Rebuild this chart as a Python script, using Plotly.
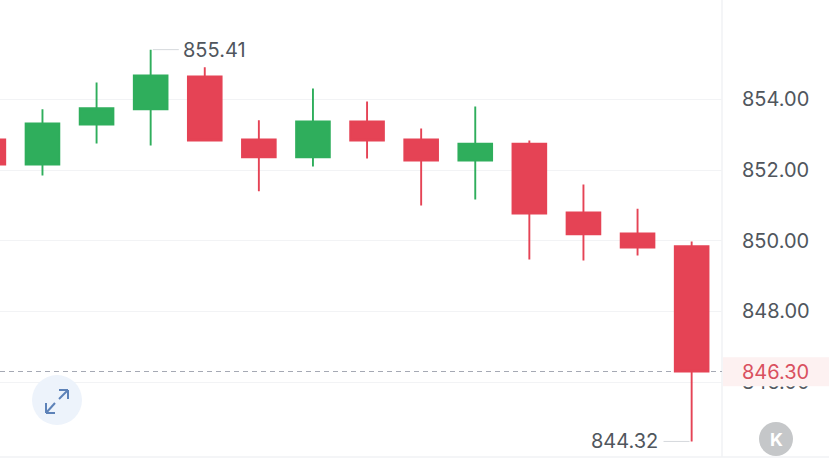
import plotly.graph_objects as go

W, H = 829, 462
PLOT_R, PLOT_B = 722, 457

index = list(range(-1, 13))
opens = [852.87, 852.16, 853.29, 853.72, 854.65, 852.87, 852.36, 853.38, 852.87, 852.27, 852.75, 850.80, 850.21, 849.85]
highs = [853.10, 853.72, 854.48, 855.41, 854.91, 853.41, 854.31, 853.94, 853.18, 853.80, 852.84, 851.59, 850.91, 849.98]
lows = [852.00, 851.85, 852.75, 852.70, 852.81, 851.40, 852.10, 852.33, 851.00, 851.17, 849.47, 849.44, 849.58, 844.32]
closes = [852.16, 853.32, 853.75, 854.68, 852.84, 852.36, 853.38, 852.84, 852.27, 852.75, 850.77, 850.18, 849.81, 846.30]
y_ticks = [846, 848, 850, 852, 854]
last_price = 846.30
max_label = ("855.41", 2, 855.41)
min_label = ("844.32", 12, 844.32)

GREEN, RED = "#2fae5c", "#e54355"
TXT = "#50565d"
FONT = "Inter"
FS = 20


def px(x):
    return x / PLOT_R


def py(y):
    return 1 - y / PLOT_B


fig = go.Figure(go.Candlestick(
    x=index, open=opens, high=highs, low=lows, close=closes,
    increasing=dict(line=dict(color=GREEN, width=1.9), fillcolor=GREEN),
    decreasing=dict(line=dict(color=RED, width=1.9), fillcolor=RED),
    whiskerwidth=0, hoverinfo="skip", showlegend=False,
))

shapes = [
    # price band in the axis gutter
    dict(type="rect", xref="paper", yref="y", x0=px(723), x1=px(W), y0=845.88, y1=846.70,
         fillcolor="#fdf1f1", line_width=0, layer="above"),
    # frame
    dict(type="line", xref="paper", yref="paper", x0=1, x1=1, y0=0, y1=1,
         line=dict(color="#f1f2f4", width=1.5), layer="below"),
    dict(type="line", xref="paper", yref="paper", x0=0, x1=px(W), y0=0, y1=0,
         line=dict(color="#f1f2f4", width=1.5), layer="below"),
    # last price line
    dict(type="line", xref="paper", yref="y", x0=0, x1=1, y0=last_price, y1=last_price,
         line=dict(color="#a5a9b4", width=1.2, dash="5px,4px"), layer="below"),
    # high/low leaders
    dict(type="line", xref="x", yref="y", x0=max_label[1] + 0.04, x1=max_label[1] + 0.52,
         y0=max_label[2], y1=max_label[2], line=dict(color="#d5d8dc", width=1)),
    dict(type="line", xref="x", yref="y", x0=min_label[1] - 0.52, x1=min_label[1] - 0.04,
         y0=min_label[2], y1=min_label[2], line=dict(color="#d5d8dc", width=1)),
    # expand button
    dict(type="circle", xref="paper", yref="paper", x0=px(32), x1=px(82), y0=py(425), y1=py(375),
         fillcolor="#edf3fb", line_width=0),
    # K button
    dict(type="circle", xref="paper", yref="paper", x0=px(759), x1=px(793), y0=py(456), y1=py(422),
         fillcolor="#c5c7c9", line_width=0),
]
for (x0, y0, x1, y1) in [(59, 399, 68, 390), (59, 390, 68, 390), (68, 390, 68, 399),
                         (55, 403, 46, 413), (46, 403, 46, 413), (46, 413, 55, 413)]:
    shapes.append(dict(type="line", xref="paper", yref="paper", x0=px(x0), x1=px(x1),
                       y0=py(y0), y1=py(y1), line=dict(color="#5d82b8", width=2)))

annotations = [
    dict(xref="x", yref="y", x=max_label[1] + 0.56, y=max_label[2], text=max_label[0],
         xanchor="left", yanchor="middle", showarrow=False,
         font=dict(family=FONT, size=FS, color=TXT)),
    dict(xref="x", yref="y", x=min_label[1] - 0.58, y=min_label[2], text=min_label[0],
         xanchor="right", yanchor="middle", showarrow=False,
         font=dict(family=FONT, size=FS, color=TXT)),
    dict(xref="paper", yref="y", x=px(775), y=last_price, text=f"{last_price:.2f}",
         xanchor="center", yanchor="middle", showarrow=False,
         font=dict(family=FONT, size=FS, color="#d9505f")),
    dict(xref="paper", yref="paper", x=px(776), y=py(439), text="<b>K</b>",
         xanchor="center", yanchor="middle", showarrow=False,
         font=dict(family=FONT, size=18, color="#ffffff")),
]

fig.update_layout(
    width=W, height=H,
    margin=dict(l=0, r=W - PLOT_R, t=0, b=H - PLOT_B, pad=0),
    paper_bgcolor="#ffffff", plot_bgcolor="#ffffff",
    boxgap=0.11,
    shapes=shapes, annotations=annotations,
    font=dict(family=FONT),
)
fig.update_xaxes(range=[-0.785, 12.561], showgrid=False, zeroline=False, showticklabels=False,
                 ticks="", rangeslider_visible=False)
fig.update_yaxes(range=[843.88, 856.815], side="right", tickvals=y_ticks, tickformat=".2f",
                 showgrid=True, gridcolor="#f2f3f5", gridwidth=1.2, zeroline=False, ticks="",
                 ticklabelstandoff=19, tickfont=dict(family=FONT, size=FS, color=TXT))
fig.write_html("out.html", config=dict(displayModeBar=False),
               post_script="document.body.style.margin='0';document.body.style.overflow='hidden';")
